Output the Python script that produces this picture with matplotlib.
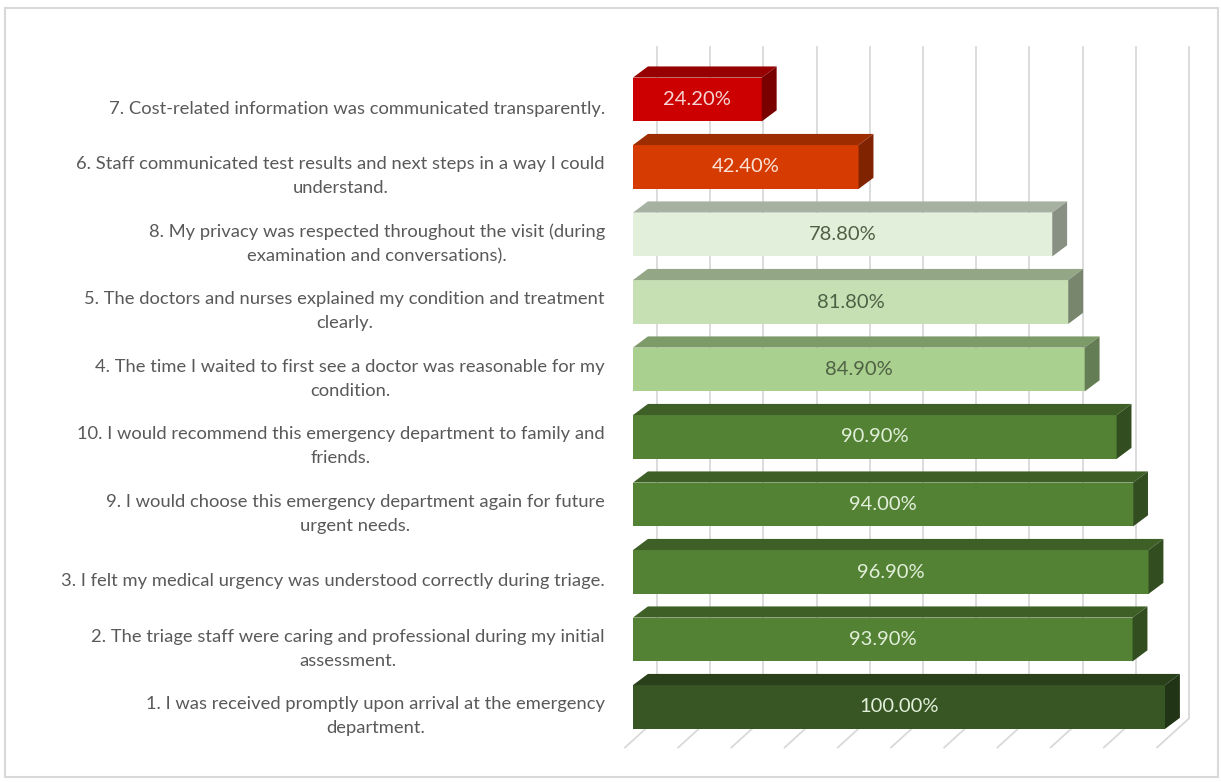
import numpy as np
import matplotlib
matplotlib.use("Agg")
import matplotlib.pyplot as plt
from matplotlib.patches import Rectangle, Polygon
from matplotlib.colors import to_rgb

plt.rcParams['font.family'] = ['Lato', 'DejaVu Sans']

# questions listed bottom -> top, as stacked in the chart
questions = [
    "1. I was received promptly upon arrival at the emergency\ndepartment.",
    "2. The triage staff were caring and professional during my initial\nassessment.",
    "3. I felt my medical urgency was understood correctly during triage.",
    "9. I would choose this emergency department again for future\nurgent needs.",
    "10. I would recommend this emergency department to family and\nfriends.",
    "4. The time I waited to first see a doctor was reasonable for my\ncondition.",
    "5. The doctors and nurses explained my condition and treatment\nclearly.",
    "8. My privacy was respected throughout the visit (during\nexamination and conversations).",
    "6. Staff communicated test results and next steps in a way I could\nunderstand.",
    "7. Cost-related information was communicated transparently.",
]
agreement = [1.000, 0.939, 0.969, 0.940, 0.909, 0.849, 0.818, 0.788, 0.424, 0.242]

face_colors = ['#375623', '#548235', '#548235', '#548235', '#548235',
               '#A9D08E', '#C6E0B4', '#E2EFDA', '#D63B02', '#CC0000']
label_colors = ['#E2EFDA', '#E2EFDA', '#E2EFDA', '#E2EFDA', '#E2EFDA',
                '#4F6145', '#4F6145', '#4F6145', '#FBE2D5', '#F6D5D5']

W, H = 1221, 782
fig = plt.figure(figsize=(W / 100, H / 100), dpi=100)
fig.patch.set_facecolor('white')

# axes area: value 0..1 horizontally, one row per question
ax = fig.add_axes([633 / W, 41.25 / H, 532 / W, 675 / H])
ax.set_xlim(0, 1)
ax.set_ylim(-0.5, 9.5)
ax.axis('off')

bar_h = 0.65        # front face height (rows)
dx, dy = 0.028, 0.165   # bar depth offset
wall_dx = 0.045     # back wall shift
floor_back, floor_front = -0.17, -0.60
top_y = 9.78
grid_col = '#D9D9D9'


def shade(c, f):
    r, g, b = to_rgb(c)
    return (r * f, g * f, b * f)


# back wall gridlines and floor lines
for t in np.arange(0, 1.01, 0.1):
    ax.plot([t + wall_dx, t + wall_dx], [floor_back, top_y], color=grid_col,
            lw=1.3, zorder=0, clip_on=False)
    ax.plot([t - 0.015, t + wall_dx], [floor_front, floor_back], color=grid_col,
            lw=1.3, zorder=0, clip_on=False)

rows = np.arange(len(agreement))
for y, v, fc, lc, q in zip(rows, agreement, face_colors, label_colors, questions):
    y0, y1 = y - bar_h / 2, y + bar_h / 2
    ax.add_patch(Rectangle((0, y0), v, bar_h, facecolor=fc, edgecolor='none',
                           zorder=3, clip_on=False))
    top = Polygon([(0, y1), (v, y1), (v + dx, y1 + dy), (dx, y1 + dy)],
                  closed=True, facecolor=shade(fc, 0.74), edgecolor='none',
                  zorder=3, clip_on=False)
    side = Polygon([(v, y0), (v + dx, y0 + dy), (v + dx, y1 + dy), (v, y1)],
                   closed=True, facecolor=shade(fc, 0.6), edgecolor='none',
                   zorder=3, clip_on=False)
    ax.add_patch(top)
    ax.add_patch(side)
    ax.text(v / 2, y, f'{v * 100:.2f}%', ha='center', va='center',
            fontsize=14.5, color=lc, zorder=4)
    ax.text(-0.053, y - 0.14, q, ha='right', va='center', multialignment='center',
            fontsize=13.2, color='#595959', linespacing=1.62, clip_on=False)

# outer chart border
fig.add_artist(Rectangle((5 / W, 5 / H), 1213 / W, 769 / H, transform=fig.transFigure,
                         fill=False, edgecolor='#D9D9D9', lw=1.5))

fig.savefig('out.png', dpi=100, facecolor='white')
